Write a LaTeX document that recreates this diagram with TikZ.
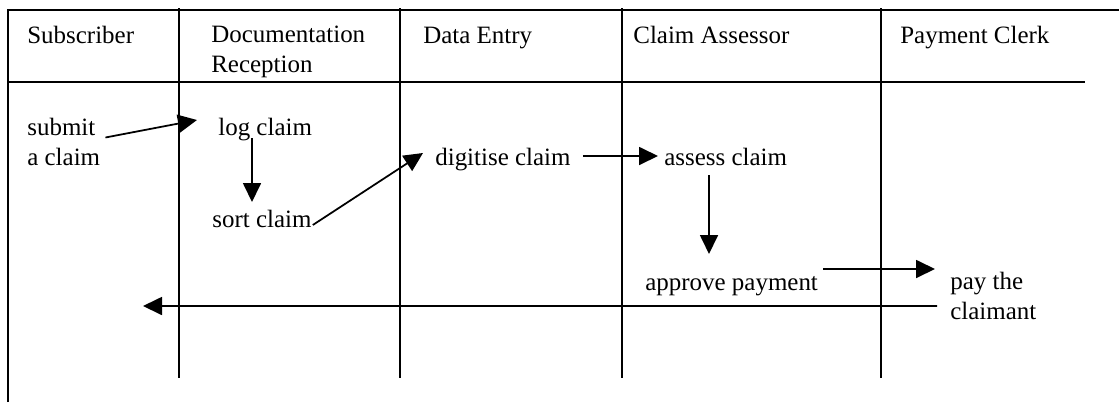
\documentclass[tikz,border=0pt]{standalone}
\usepackage{fontspec}
\setmainfont{Liberation Serif}
\usepackage{tikz}
\usetikzlibrary{arrows.meta}

\tikzset{
  task/.style={anchor=base west, inner sep=0pt, align=left,
    font=\fontsize{14.2}{16.8}\selectfont},
  flow/.style={-{Triangle[length=0.38cm,width=0.36cm]}, line width=1pt},
  lane/.style={line width=0.9pt}
}

\begin{document}
\begin{tikzpicture}
  \useasboundingbox (0,0) rectangle (22.38,8.04);

  % Draw outer frame (left and top)
  \draw[line width=1.5pt] (0.16,0) -- (0.16,7.84) -- (22.38,7.84);
  % Draw header line
  \draw[line width=1.1pt] (0.16,6.40) -- (21.70,6.40);
  % Draw lane separators
  \foreach \x in {3.58, 8.00, 12.44, 17.62}
    \draw[lane] (\x,7.88) -- (\x,0.48);

  % Lane titles (base is the last line)
  \node[task] (subscriber) at (0.54,7.18) {Subscriber};
  \node[task] (reception) at (4.22,6.60) {Documentation\\Reception};
  \node[task] (dataentry) at (8.46,7.18) {Data Entry};
  \node[task] (assessor) at (12.66,7.18) {Claim Assessor};
  \node[task] (clerk) at (18.00,7.18) {Payment Clerk};

  % Activities
  \node[task] (submit) at (0.54,4.74) {submit\\a claim};
  \node[task] (log) at (4.36,5.34) {log claim};
  \node[task] (sort) at (4.24,3.50) {sort claim};
  \node[task] (digitise) at (8.70,4.74) {digitise claim};
  \node[task] (assess) at (13.28,4.74) {assess claim};
  \node[task] (approve) at (12.90,2.24) {approve payment};
  \node[task] (pay) at (19.00,1.66) {pay the\\claimant};
  \coordinate (back) at (2.86,1.92);

  % Draw flow of the claim
  \draw[flow] ([shift={(0.10,0.55)}]submit.base east) -- ([shift={(-0.42,0.30)}]log.base west);
  \draw[flow] ([shift={(0.68,-0.06)}]log.base west) -- ([shift={(0.80,0.50)}]sort.base west);
  \draw[flow] ([shift={(0.02,0.04)}]sort.base east) -- ([shift={(-0.24,0.24)}]digitise.base west);
  \draw[flow] ([shift={(0.24,0.18)}]digitise.base east) -- ([shift={(-0.12,0.18)}]assess.base west);
  \draw[flow] ([shift={(0.90,-0.20)}]assess.base west) -- ([shift={(1.28,0.72)}]approve.base west);
  \draw[flow] ([shift={(0.10,0.42)}]approve.base east) -- ([shift={(-0.30,1.00)}]pay.base west);
  \draw[flow] ([shift={(-0.26,0.26)}]pay.base west) -- (back);
\end{tikzpicture}
\end{document}
